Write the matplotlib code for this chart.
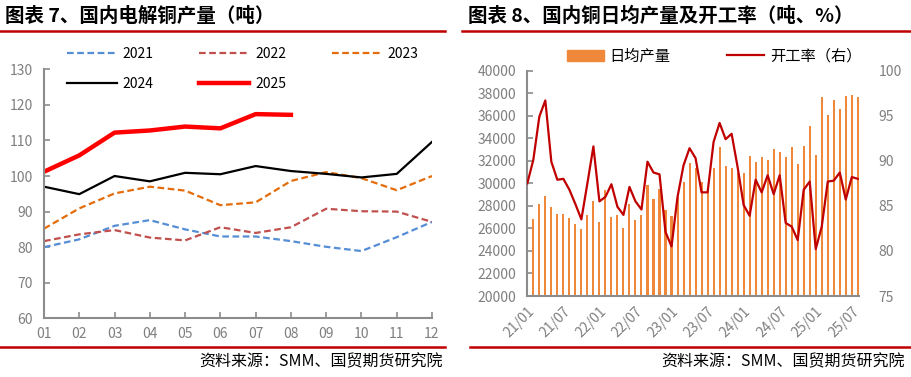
import matplotlib.pyplot as plt
from matplotlib.lines import Line2D
from matplotlib.patches import Patch

plt.rcParams['font.family'] = ['Noto Sans CJK SC', 'DejaVu Sans']

# left chart: monthly electrolytic copper output index
months = ['01', '02', '03', '04', '05', '06', '07', '08', '09', '10', '11', '12']
y2021 = [80, 82.2, 86, 87.6, 85, 83, 83, 81.7, 80.1, 78.9, 82.8, 87.1]
y2022 = [81.7, 83.6, 84.8, 82.7, 81.9, 85.6, 84, 85.6, 90.8, 90.1, 90, 87.1]
y2023 = [85.2, 90.9, 95.1, 97, 95.9, 91.8, 92.6, 98.6, 101.1, 99.4, 96, 100]
y2024 = [97, 94.9, 100, 98.5, 100.9, 100.5, 102.8, 101.4, 100.6, 99.6, 100.6, 109.6]
y2025 = [101.2, 105.8, 112.2, 112.8, 113.9, 113.4, 117.4, 117.2]

# right chart: daily output (bars) and operating rate (line), 2021/01 - 2025/08
daily_output = [26500, 26860, 28200, 28900, 27930, 27280, 27310, 26920, 26390, 25950,
                27160, 28430, 26540, 29440, 27010, 27220, 26070, 28200, 26750, 27160,
                29850, 28610, 29500, 27630, 27070, 28820, 30150, 31780, 31390, 30090,
                29300, 31330, 33200, 31540, 31330, 30950, 30890, 32450, 31900, 32370,
                32070, 33020, 32750, 32340, 33220, 31720, 33280, 35120, 32540, 37690,
                36040, 37430, 36630, 37750, 37810, 37690]
op_rate = [87.5, 90.1, 94.9, 96.7, 89.9, 87.9, 88.0, 86.8, 85.2, 83.5,
           87.5, 91.6, 85.5, 86.0, 87.4, 84.9, 84.0, 87.1, 85.5, 84.6,
           89.9, 88.7, 88.5, 82.1, 80.5, 86.0, 89.5, 91.4, 90.3, 86.5,
           86.5, 92.1, 94.2, 92.4, 93.0, 89.3, 85.1, 83.9, 87.9, 86.5,
           88.4, 86.3, 88.4, 83.1, 82.7, 81.2, 86.8, 87.7, 80.2, 82.7,
           87.7, 87.8, 88.7, 85.7, 88.2, 88.0]
tick_labels = ['21/01', '21/07', '22/01', '22/07', '23/01', '23/07',
               '24/01', '24/07', '25/01', '25/07']

gray = '#7f7f7f'
spine_gray = '#8c8c8c'
dark_red = '#C00000'

fig = plt.figure(figsize=(9.12, 3.77), dpi=100)
W, H = 912, 377


def px(x, y):
    return x / W, 1 - y / H


def style_axes(ax):
    for s in ['top', 'right']:
        ax.spines[s].set_visible(False)
    for s in ['left', 'bottom']:
        ax.spines[s].set_color(spine_gray)
        ax.spines[s].set_linewidth(1.5)
    ax.tick_params(direction='in', length=4, width=1.2, color=spine_gray,
                   labelcolor=gray, labelsize=10)


# ---- left panel ----
ax1 = fig.add_axes([44 / W, 1 - 318.3 / H, 388 / W, 249 / H])
x = list(range(1, 13))
ax1.plot(x, y2021, color='#558ED5', lw=1.6, dashes=(3, 1.6), label='2021')
ax1.plot(x, y2022, color='#C0504D', lw=1.6, dashes=(3, 1.6), label='2022')
ax1.plot(x, y2023, color='#E46C0A', lw=1.6, dashes=(3, 1.6), label='2023')
ax1.plot(x, y2024, color='black', lw=1.6, label='2024')
ax1.plot(x[:len(y2025)], y2025, color='#FF0000', lw=3.2, label='2025')
ax1.set_xlim(1, 12)
ax1.set_ylim(60, 130)
ax1.set_yticks(range(60, 131, 10))
ax1.set_xticks(x)
ax1.set_xticklabels(months)
style_axes(ax1)
ax1.tick_params(axis='x', pad=6)
ax1.tick_params(axis='y', pad=8)

h, l = ax1.get_legend_handles_labels()
order = [0, 3, 1, 4, 2]
ax1.legend([h[i] for i in order], [l[i] for i in order], ncol=3,
           loc='upper left', bbox_to_anchor=px(67, 47),
           bbox_transform=fig.transFigure,
           frameon=False, fontsize=10, handlelength=3.6, handletextpad=0.4,
           columnspacing=3.3, labelspacing=1.15, borderaxespad=0, borderpad=0)

# ---- right panel ----
ax2 = fig.add_axes([527.3 / W, 1 - 296 / H, 331.7 / W, 225.3 / H])
idx = list(range(len(daily_output)))
ax2.bar(idx, daily_output, width=0.34, color='#F0883C', zorder=2)
ax2.set_xlim(0, 55.2)
ax2.set_ylim(20000, 40000)
ax2.set_yticks(range(20000, 40001, 2000))
ax2.set_xticks(range(0, 56, 6))
ax2.set_xticklabels(tick_labels, rotation=45, ha='right', rotation_mode='anchor')
style_axes(ax2)
ax2.tick_params(axis='y', pad=8)
ax2.tick_params(axis='x', pad=6)

ax3 = ax2.twinx()
ax3.plot(idx, op_rate, color=dark_red, lw=1.6, zorder=3)
ax3.set_ylim(75, 100)
ax3.set_yticks(range(75, 101, 5))
for s in ['top', 'right', 'left', 'bottom']:
    ax3.spines[s].set_visible(False)
ax3.tick_params(axis='y', length=0, labelcolor=gray, labelsize=10, pad=14)

handles = [Patch(color='#F0883C'), Line2D([], [], color=dark_red, lw=1.6)]
fig.legend(handles, ['日均产量', '开工率（右）'], ncol=2, loc='center left',
           bbox_to_anchor=px(567, 56), frameon=False, fontsize=11,
           handlelength=2.4, handletextpad=0.4, columnspacing=3.7,
           borderaxespad=0, borderpad=0)

# ---- titles, rules, sources ----
fig.text(*px(5, 16), '图表 7、国内电解铜产量（吨）', fontsize=14,
         fontweight='bold', va='center', ha='left')
fig.text(*px(468, 16), '图表 8、国内铜日均产量及开工率（吨、%）', fontsize=14,
         fontweight='bold', va='center', ha='left')
fig.add_artist(Line2D([0, 445 / W], [1 - 31 / H] * 2, color=dark_red, lw=1.8))
fig.add_artist(Line2D([462 / W, 1], [1 - 31 / H] * 2, color=dark_red, lw=1.8))
fig.add_artist(Line2D([0, 445 / W], [1 - 347 / H] * 2, color=dark_red, lw=1.8))
fig.add_artist(Line2D([470 / W, 1], [1 - 347 / H] * 2, color=dark_red, lw=1.8))
fig.text(*px(443, 362), '资料来源：SMM、国贸期货研究院', fontsize=11.5,
         va='center', ha='right')
fig.text(*px(905, 362), '资料来源：SMM、国贸期货研究院', fontsize=11.5,
         va='center', ha='right')

fig.savefig('out.png', dpi=100)
